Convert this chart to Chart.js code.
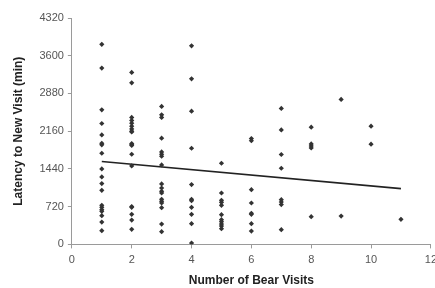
<!DOCTYPE html>
<html>
<head>
<meta charset="utf-8">
<script src="https://cdn.jsdelivr.net/npm/chart.js@4/dist/chart.umd.min.js"></script>
<style>
  html, body { margin: 0; padding: 0; background: #fff; overflow: hidden; }
  #wrap { width: 442px; height: 288px; position: relative; }
</style>
</head>
<body>
<div id="wrap"><canvas id="chart"></canvas></div>
<script>
// number of bear visits (x) and the latencies (min) for each
const visitCounts = [1, 2, 3, 4, 5, 6, 7, 8, 9, 10, 11];
const latencyAt = [
  [3817, 3364, 2567, 2307, 2089, 1930, 1900, 1739, 1440, 1287, 1160, 1032, 745, 707, 663, 631, 549, 426, 262],
  [3282, 3083, 2422, 2365, 2313, 2256, 2204, 2160, 2147, 1925, 1906, 1887, 1720, 1497, 721, 707, 573, 465, 287],
  [2632, 2472, 2422, 2026, 1764, 1720, 1682, 1516, 1153, 1076, 1013, 981, 860, 822, 790, 701, 388, 243],
  [3790, 3160, 2542, 1835, 1141, 860, 835, 707, 573, 396, 25],
  [1548, 981, 841, 803, 745, 567, 472, 434, 388, 350, 300],
  [2020, 1978, 1045, 790, 593, 573, 396, 254],
  [2594, 2185, 1715, 1453, 854, 809, 759, 281],
  [2236, 1917, 1879, 1841, 529],
  [2766, 541],
  [2256, 1912],
  [478],
];
// linear trend line end points
const trendX = [1, 11];
const trendY = [1581, 1065];
const yTicks = [0, 720, 1440, 2160, 2880, 3600, 4320];

const font = 'Liberation Sans, Arial, sans-serif';
const axisColor = '#9a9a9a';

const points = [];
visitCounts.forEach((x, i) => {
  latencyAt[i].forEach(y => points.push({ x, y }));
});
const trend = trendX.map((x, i) => ({ x, y: trendY[i] }));

document.addEventListener('DOMContentLoaded', () => {
  const ctx = document.getElementById('chart').getContext('2d');
  new Chart(ctx, {
    type: 'scatter',
    data: {
      datasets: [{
        data: points,
        pointStyle: 'rectRot',
        pointRadius: 2.6,
        backgroundColor: '#333',
        borderColor: '#333',
        borderWidth: 0,
      }, {
        type: 'line',
        data: trend,
        borderColor: '#222',
        borderWidth: 1.6,
        pointRadius: 0,
        fill: false,
      }],
    },
    options: {
      responsive: true,
      maintainAspectRatio: false,
      animation: false,
      layout: { padding: { top: 18, left: 11, right: 0, bottom: 0 } },
      plugins: {
        legend: { display: false },
        tooltip: { enabled: false },
      },
      scales: {
        x: {
          type: 'linear',
          min: 0,
          max: 12,
          border: { color: axisColor, width: 1 },
          grid: { drawOnChartArea: false, tickLength: 4, color: axisColor },
          ticks: { stepSize: 2, color: '#555', font: { family: font, size: 11 }, padding: 5, maxRotation: 0 },
          title: {
            display: true,
            text: 'Number of Bear Visits',
            color: '#222',
            font: { family: font, size: 12, weight: 'bold' },
            padding: { top: 2, bottom: 0 },
          },
        },
        y: {
          type: 'linear',
          min: 0,
          max: 4320,
          afterBuildTicks: (scale) => { scale.ticks = yTicks.map(v => ({ value: v })); },
          border: { color: axisColor, width: 1 },
          grid: { drawOnChartArea: false, tickLength: 4, color: axisColor },
          ticks: { color: '#555', font: { family: font, size: 11 }, padding: 4, callback: (v) => String(v) },
          title: {
            display: true,
            text: 'Latency to New Visit (min)',
            color: '#222',
            font: { family: font, size: 12, weight: 'bold' },
            padding: { top: 0, bottom: 10 },
          },
        },
      },
    },
  });
});
</script>
</body>
</html>
